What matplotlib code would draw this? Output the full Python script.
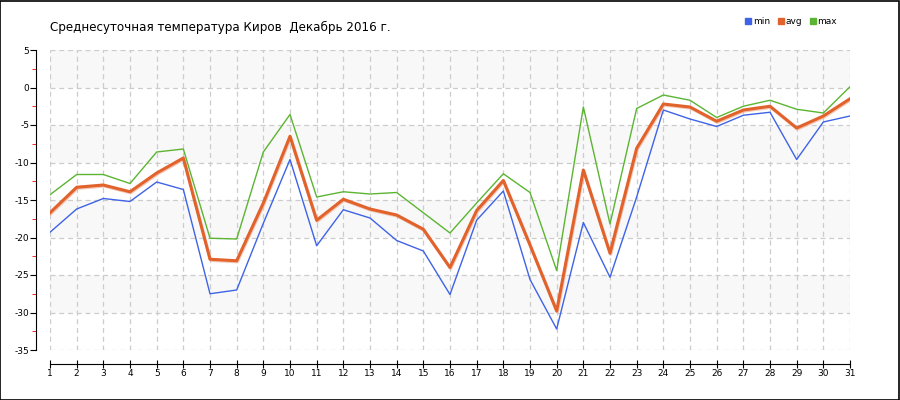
import matplotlib.pyplot as plt
from matplotlib.lines import Line2D
import matplotlib.patheffects as pe

plt.rcParams['axes.unicode_minus'] = False

days = list(range(1, 32))
t_min = [-19.3, -16.2, -14.8, -15.2, -12.6, -13.6, -27.5, -27.0, -18.1, -9.6,
         -21.1, -16.3, -17.4, -20.4, -21.8, -27.6, -17.7, -13.8, -25.6, -32.2,
         -18.0, -25.3, -14.6, -3.0, -4.2, -5.2, -3.7, -3.3, -9.6, -4.6, -3.8]
t_avg = [-16.7, -13.3, -13.0, -13.9, -11.4, -9.4, -22.9, -23.1, -15.4, -6.5,
         -17.7, -14.9, -16.2, -17.0, -18.9, -24.0, -16.4, -12.4, -21.0, -29.8,
         -11.0, -22.1, -8.1, -2.2, -2.6, -4.5, -3.0, -2.5, -5.4, -3.8, -1.5]
t_max = [-14.3, -11.6, -11.6, -12.8, -8.6, -8.2, -20.1, -20.2, -8.6, -3.6,
         -14.6, -13.9, -14.2, -14.0, -16.7, -19.4, -15.4, -11.5, -14.0, -24.4,
         -2.6, -18.2, -2.8, -1.0, -1.7, -4.0, -2.5, -1.7, -2.9, -3.4, 0.1]

c_min = '#3f63e6'
c_avg = '#e2622c'
c_max = '#5cb532'

fig = plt.figure(figsize=(9, 4), dpi=100)
ax = fig.add_axes([50 / 900, 50 / 400, 800 / 900, 300 / 400])

# alternating background bands
for lo in [0, -10, -20, -30]:
    ax.axhspan(lo, lo + 5, color='#f8f8f8', zorder=0, lw=0)

ax.plot(days, t_min, color=c_min, lw=1, zorder=3)
ax.plot(days, t_max, color=c_max, lw=1, zorder=3)
ax.plot(days, t_avg, color=c_avg, lw=2.2, zorder=4,
        path_effects=[pe.SimpleLineShadow(offset=(0.5, -0.8), shadow_color='#f0b8a0', alpha=0.8),
                      pe.Normal()])

ax.set_xlim(1, 31)
ax.set_ylim(-35, 5)
ax.set_xticks(days)
ax.set_yticks(range(-35, 6, 5))
ax.set_yticks([v + 2.5 for v in range(-35, 5, 5)], minor=True)
ax.grid(True, which='major', color='#cccccc', ls=(0, (4, 3)), lw=0.9)
ax.set_axisbelow(True)

for s in ['top', 'right']:
    ax.spines[s].set_visible(False)
ax.spines['left'].set_position(('outward', 10))
ax.spines['bottom'].set_position(('outward', 10))

ax.tick_params(axis='y', which='major', direction='out', length=4, labelsize=6.5, pad=1)
ax.tick_params(axis='y', which='minor', direction='out', length=3, color='red')
ax.tick_params(axis='x', which='major', direction='inout', length=6, labelsize=6.5, pad=1)

fig.text(50 / 900, 1 - 27 / 400, 'Среднесуточная температура Киров  Декабрь 2016 г.',
         fontsize=8.6, va='center', ha='left')

handles = [Line2D([], [], ls='', marker='s', ms=5, color=c) for c in (c_min, c_avg, c_max)]
fig.legend(handles, ['min', 'avg', 'max'], loc='center right', bbox_to_anchor=(845 / 900, 1 - 22 / 400),
           ncol=3, frameon=False, fontsize=6.5, handletextpad=0.1, columnspacing=0.8,
           handlelength=0.8)

fig.patches.append(plt.Rectangle((0.0005, 0.001), 0.998, 0.997, transform=fig.transFigure,
                                 fill=False, edgecolor='black', lw=1.2))

fig.savefig('out.png', dpi=100)
